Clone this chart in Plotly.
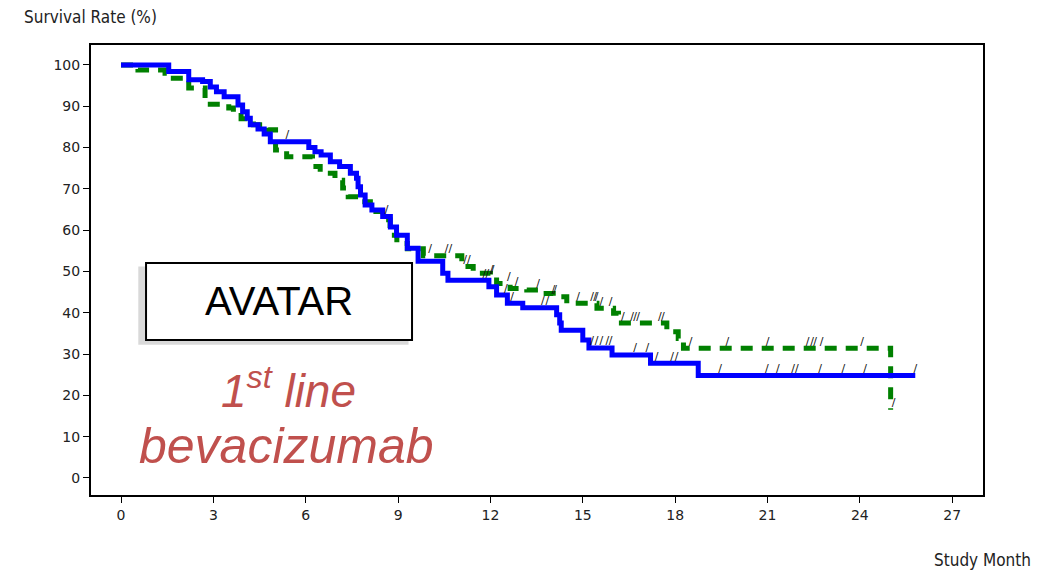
import plotly.graph_objects as go
import bisect

# ---- data ----
blue_t = [0, 1.55, 2.2, 2.65, 2.9, 3.1, 3.35, 3.8, 3.95, 4.1, 4.2, 4.45, 4.65, 4.85,
          6.1, 6.3, 6.5, 6.8, 7.1, 7.45, 7.65, 7.7, 7.78, 7.93, 8.15, 8.5, 8.75, 8.95,
          9.3, 9.65, 10.45, 10.62, 11.95, 12.2, 12.55, 13.05, 14.15, 14.25, 14.3,
          15.0, 15.2, 15.95, 17.2, 18.75, 25.8]
blue_s = [100, 98.4, 96.4, 96.0, 94.7, 93.5, 92.3, 90.3, 88.7, 87.1, 85.5, 84.5, 83.3, 81.4,
          80.0, 79.0, 78.2, 76.6, 75.4, 73.8, 72.6, 70.5, 68.5, 66.1, 64.9, 63.3, 60.8, 58.8,
          55.6, 52.5, 49.6, 47.9, 46.3, 44.3, 42.3, 41.2, 39.5, 37.5, 35.8,
          33.4, 31.5, 29.8, 27.8, 24.8, 24.8]

green_t = [0, 0.55, 1.43, 1.55, 2.2, 2.73, 3.5, 3.65, 3.9, 4.3, 4.78, 5.02, 5.38,
           6.22, 6.47, 6.95, 7.2, 7.38, 7.7, 8.1, 8.5, 8.74, 8.96, 9.3, 9.82, 11.07,
           11.44, 12.0, 12.2, 12.64, 13.18, 13.6, 14.04, 14.48, 15.46, 16.0, 16.16,
           17.73, 18.1, 18.27, 25.0]
green_s = [100, 98.8, 98.0, 96.8, 94.4, 90.5, 89.6, 88.4, 87.0, 85.5, 84.3, 79.4, 77.8,
           75.4, 73.8, 72.1, 70.2, 68.1, 66.9, 64.5, 62.5, 58.8, 56.8, 55.5, 53.8, 51.2,
           49.6, 48.7, 47.1, 45.9, 45.5, 44.7, 43.9, 42.3, 41.1, 39.9, 37.5,
           35.4, 33.8, 31.4, 16.5]

blue_censor = [5.4, 8.63, 11.8, 11.9, 12.5, 12.7, 13.7, 13.85, 15.3, 15.45, 15.6, 15.8,
               15.9, 16.7, 17.1, 17.4, 17.9, 18.05, 19.46, 20.98, 21.34, 21.83, 21.95,
               22.71, 23.46, 24.17, 25.8]
green_censor = [10.04, 10.58, 10.7, 11.18, 11.3, 12.04, 12.07, 12.6, 12.85, 13.55, 14.04,
                14.1, 14.85, 15.3, 15.4, 15.45, 15.6, 15.9, 16.3, 16.6, 16.7, 16.8, 17.5,
                17.6, 18.5, 19.7, 21.0, 22.3, 22.45, 22.55, 22.76, 24.07, 25.1]

x_ticks = [0, 3, 6, 9, 12, 15, 18, 21, 24, 27]
y_ticks = [0, 10, 20, 30, 40, 50, 60, 70, 80, 90, 100]


def step_value(ts, ss, t):
    i = bisect.bisect_right(ts, t) - 1
    return ss[max(i, 0)]


fig = go.Figure()
fig.add_trace(go.Scatter(x=green_t, y=green_s, mode="lines", line_shape="hv",
                         line=dict(color="#008000", width=5, dash="12px,9px"),
                         showlegend=False, hoverinfo="skip"))
fig.add_trace(go.Scatter(x=blue_t, y=blue_s, mode="lines", line_shape="hv",
                         line=dict(color="#0000ff", width=5),
                         showlegend=False, hoverinfo="skip"))

for ts, ss, cens in [(blue_t, blue_s, blue_censor), (green_t, green_s, green_censor)]:
    fig.add_trace(go.Scatter(
        x=cens, y=[step_value(ts, ss, c) + 1.5 for c in cens], mode="text",
        text=["/"] * len(cens), textposition="middle center",
        textfont=dict(family="DejaVu Sans, sans-serif", size=11, color="#111111"),
        showlegend=False, hoverinfo="skip"))

tick_font = dict(family="DejaVu Sans, sans-serif", size=14, color="#222222")

fig.update_layout(
    width=1063, height=574,
    margin=dict(l=91, r=80, t=45, b=79),
    paper_bgcolor="white", plot_bgcolor="white",
    xaxis=dict(range=[-0.975, 28.0], tickvals=x_ticks, ticks="outside", ticklen=6,
               tickcolor="black", showline=True, linecolor="black", linewidth=2,
               mirror=True, showgrid=False, zeroline=False, tickfont=tick_font),
    yaxis=dict(range=[-4.12, 104.84], tickvals=y_ticks, ticks="outside", ticklen=6,
               tickcolor="black", showline=True, linecolor="black", linewidth=2,
               mirror=True, showgrid=False, zeroline=False, tickfont=tick_font),
    shapes=[
        dict(type="rect", xref="paper", yref="paper", x0=0.053, x1=0.356, y0=0.334, y1=0.508,
             fillcolor="rgba(0,0,0,0.15)", line=dict(width=0), layer="above"),
        dict(type="rect", xref="paper", yref="paper", x0=0.0617, x1=0.3599, y0=0.3444, y1=0.5156,
             fillcolor="white", line=dict(color="black", width=2), layer="above"),
    ],
    annotations=[
        dict(text="Survival Rate (%)", xref="paper", yref="paper", x=-0.0773, y=1.062,
             xanchor="left", yanchor="middle", showarrow=False,
             font=dict(family="Liberation Sans Narrow, DejaVu Sans Condensed, sans-serif",
                       size=17, color="#222222")),
        dict(text="Study Month", xref="paper", yref="paper", x=1.056, y=-0.144,
             xanchor="right", yanchor="middle", showarrow=False,
             font=dict(family="Liberation Sans Narrow, DejaVu Sans Condensed, sans-serif",
                       size=17, color="#222222")),
        dict(text="AVATAR", xref="paper", yref="paper", x=0.2108, y=0.431,
             xanchor="center", yanchor="middle", showarrow=False,
             font=dict(family="Liberation Sans, Arial, sans-serif", size=40, color="black")),
        dict(text="<i>1<sup>st</sup> line</i>", xref="paper", yref="paper", x=0.2209, y=0.2378,
             xanchor="center", yanchor="middle", showarrow=False,
             font=dict(family="Liberation Sans, Arial, sans-serif", size=46, color="#c0504d")),
        dict(text="<i>bevacizumab</i>", xref="paper", yref="paper", x=0.2197, y=0.1089,
             xanchor="center", yanchor="middle", showarrow=False,
             font=dict(family="Liberation Sans, Arial, sans-serif", size=50, color="#c0504d")),
    ],
)

fig.write_html("out.html")
